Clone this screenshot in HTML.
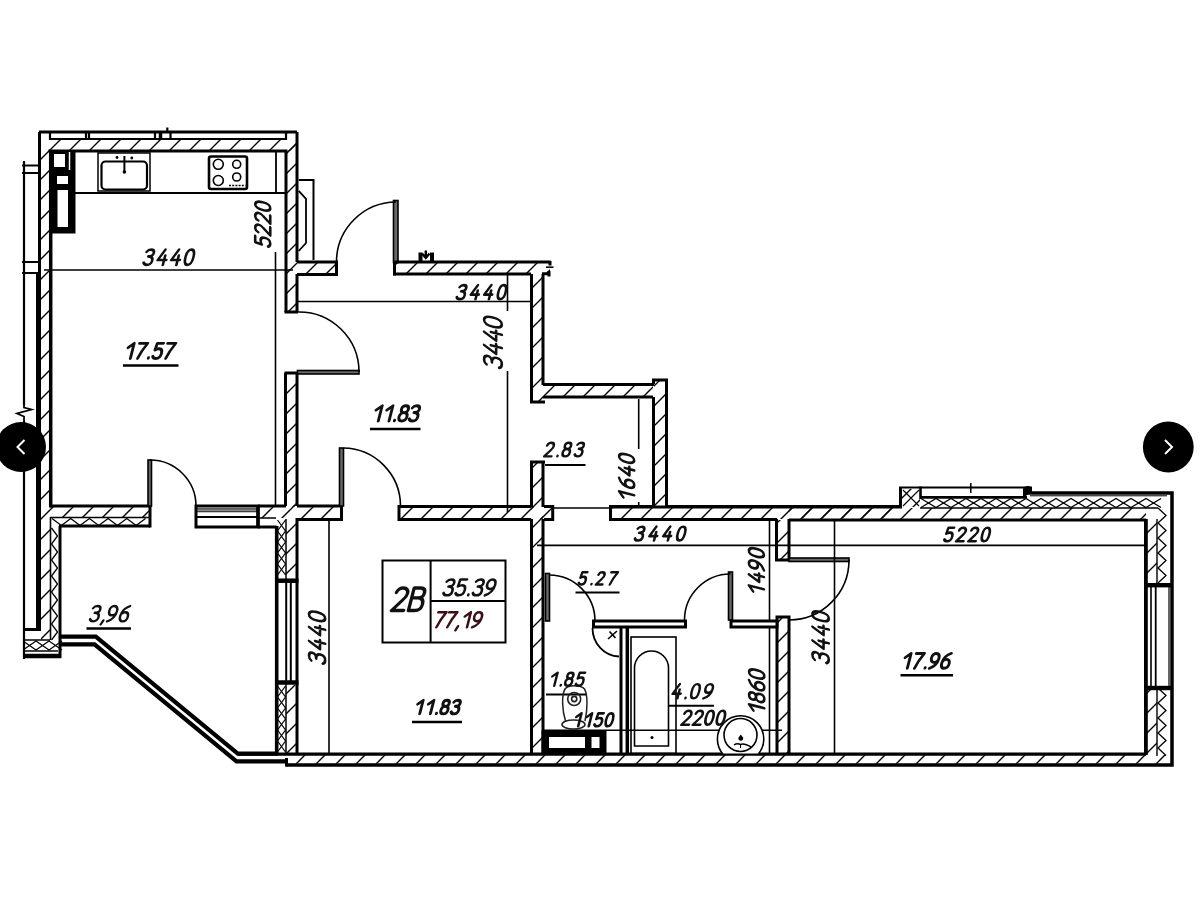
<!DOCTYPE html>
<html><head><meta charset="utf-8"><style>
html,body{margin:0;padding:0;background:#fff;}
body{width:1200px;height:897px;overflow:hidden;}
svg{display:block;}
text{font-family:"Liberation Sans",sans-serif;font-style:italic;}
</style></head><body>
<svg width="1200" height="897" viewBox="0 0 1200 897">
<defs>
<pattern id="h" patternUnits="userSpaceOnUse" width="20" height="20">
<path d="M-5,25 L25,-5 M-5,5 L5,-5 M15,25 L25,15" stroke="#000" stroke-width="1.4"/>
</pattern>
</defs>
<rect x="0" y="0" width="1200" height="897" fill="#fff"/>

<rect x="41" y="140" width="255" height="11" fill="url(#h)"/>
<line x1="39" y1="132" x2="297" y2="132" stroke="#000" stroke-width="3" />
<line x1="50" y1="139" x2="286" y2="139" stroke="#000" stroke-width="2.2" />
<line x1="48.5" y1="151" x2="287.5" y2="151" stroke="#000" stroke-width="3" />
<line x1="50" y1="132" x2="50" y2="140" stroke="#000" stroke-width="2.2" />
<line x1="86" y1="132" x2="86" y2="140" stroke="#000" stroke-width="2.2" />
<line x1="89" y1="132" x2="89" y2="140" stroke="#000" stroke-width="2.2" />
<line x1="155" y1="132" x2="155" y2="140" stroke="#000" stroke-width="2.2" />
<line x1="160.5" y1="132" x2="160.5" y2="140" stroke="#000" stroke-width="3.5" />
<line x1="170.5" y1="132" x2="170.5" y2="140" stroke="#000" stroke-width="2.2" />
<line x1="286" y1="132" x2="286" y2="140" stroke="#000" stroke-width="2.2" />
<line x1="167.3" y1="127.5" x2="167.3" y2="133" stroke="#000" stroke-width="2.2" />
<rect x="40" y="151" width="9" height="355" fill="url(#h)"/>
<line x1="39.5" y1="132" x2="39.5" y2="272" stroke="#000" stroke-width="3" />
<line x1="38.5" y1="272" x2="38.5" y2="628" stroke="#000" stroke-width="5" />
<line x1="50.7" y1="150" x2="50.7" y2="507.5" stroke="#000" stroke-width="3.5" />
<line x1="24" y1="161" x2="24" y2="405" stroke="#000" stroke-width="2.2" />
<path d="M24,404 L24,407.5 L31.5,409.5 L17,413.5 L24,416.5 L24,422" fill="none" stroke="#000" stroke-width="1.8"/>
<line x1="24" y1="421" x2="24" y2="629" stroke="#000" stroke-width="2.2" />
<line x1="22" y1="165.5" x2="38" y2="165.5" stroke="#000" stroke-width="2" />
<line x1="22" y1="173" x2="38" y2="173" stroke="#000" stroke-width="2" />
<line x1="22" y1="262" x2="38" y2="262" stroke="#000" stroke-width="2" />
<line x1="22" y1="273" x2="38" y2="273" stroke="#000" stroke-width="2" />
<rect x="287" y="132" width="10" height="180" fill="url(#h)"/>
<rect x="287" y="373" width="10" height="134" fill="url(#h)"/>
<line x1="297" y1="132" x2="297" y2="262" stroke="#000" stroke-width="3" />
<line x1="297" y1="274" x2="297" y2="312" stroke="#000" stroke-width="3" />
<line x1="286" y1="151" x2="286" y2="312" stroke="#000" stroke-width="3" />
<line x1="284.5" y1="312" x2="298" y2="312" stroke="#000" stroke-width="3" />
<line x1="285.5" y1="373" x2="285.5" y2="506" stroke="#000" stroke-width="3" />
<line x1="297" y1="373" x2="297" y2="506" stroke="#000" stroke-width="3" />
<line x1="284.5" y1="373" x2="298" y2="373" stroke="#000" stroke-width="3" />
<rect x="51.5" y="151.5" width="23" height="81" fill="#000" stroke="#000" stroke-width="2" />
<rect x="54" y="154" width="11" height="13" fill="#fff" stroke="none" stroke-width="3" />
<rect x="57" y="176" width="11" height="8" fill="#fff" stroke="none" stroke-width="3" />
<rect x="57.5" y="190" width="10.5" height="37" fill="#fff" stroke="none" stroke-width="3" />
<line x1="69.5" y1="152" x2="69.5" y2="170" stroke="#fff" stroke-width="1.5" />
<line x1="74" y1="193" x2="286" y2="193" stroke="#000" stroke-width="2.2" />
<line x1="276" y1="151" x2="276" y2="193" stroke="#000" stroke-width="1.8" />
<rect x="98" y="153" width="52" height="38" fill="none" stroke="#000" stroke-width="1.5" />
<rect x="101.5" y="161.5" width="45.5" height="28" rx="4" fill="none" stroke="#000" stroke-width="2.2"/>
<circle cx="117" cy="157.5" r="1.4" fill="#000"/><circle cx="131.8" cy="158" r="1.4" fill="#000"/><circle cx="124.4" cy="172" r="1.8" fill="#000"/>
<line x1="124.4" y1="156" x2="124.4" y2="171" stroke="#000" stroke-width="2" />
<rect x="209" y="156.5" width="38" height="32.5" rx="2" fill="none" stroke="#000" stroke-width="2.6"/>
<circle cx="218.3" cy="164.3" r="5" fill="none" stroke="#000" stroke-width="1.6"/>
<circle cx="236.7" cy="164.3" r="4" fill="none" stroke="#000" stroke-width="1.6"/>
<circle cx="218.3" cy="180.5" r="5" fill="none" stroke="#000" stroke-width="1.6"/>
<circle cx="236.7" cy="177" r="4" fill="none" stroke="#000" stroke-width="1.6"/>
<line x1="229" y1="185.5" x2="245.5" y2="185.5" stroke="#000" stroke-width="1.6" stroke-dasharray="2,1.2"/>
<line x1="44" y1="270" x2="293" y2="270" stroke="#000" stroke-width="1.6" />
<line x1="275.5" y1="252" x2="275.5" y2="506" stroke="#000" stroke-width="1.6" />
<line x1="123" y1="365.5" x2="178.5" y2="365.5" stroke="#000" stroke-width="2.6" />
<path d="M298.7,180 L313.5,180 L313.5,260" fill="none" stroke="#000" stroke-width="2"/>
<path d="M298.7,190.8 L306,198.8 L306,243 L298.7,251" fill="none" stroke="#000" stroke-width="1.8"/>
<rect x="298" y="263" width="38" height="11" fill="url(#h)"/>
<path d="M297,262 L336.5,262 L336.5,274.5 L297,274.5" fill="none" stroke="#000" stroke-width="3"/>
<rect x="393.5" y="200.5" width="4.5" height="62" fill="#6a6a6a" stroke="#000" stroke-width="1.6" />
<path d="M396,202 A60,60 0 0 0 336.5,262" fill="none" stroke="#000" stroke-width="1.6"/>
<rect x="396" y="263" width="154" height="11" fill="url(#h)"/>
<path d="M394.5,262 L550.5,262 M550,261 L550,265.5 M542,273.8 L550.5,273.8 M549,271 L549,276.5" fill="none" stroke="#000" stroke-width="3"/>
<line x1="546" y1="267.2" x2="553.5" y2="267.2" stroke="#000" stroke-width="1.6" />
<path d="M420.5,263 L420.5,252.5 M432,263 L432,252.5" stroke="#000" stroke-width="4"/>
<path d="M422,253.5 L425.8,258 L429.5,253.5 M425.8,250.5 L425.8,256" fill="none" stroke="#000" stroke-width="2.4"/>
<line x1="394.5" y1="262" x2="394.5" y2="275.5" stroke="#000" stroke-width="3" />
<line x1="393" y1="274" x2="531" y2="274" stroke="#000" stroke-width="3" />
<rect x="531" y="275" width="12" height="127" fill="url(#h)"/>
<line x1="531.5" y1="274" x2="531.5" y2="402" stroke="#000" stroke-width="3" />
<line x1="543" y1="274" x2="543" y2="385" stroke="#000" stroke-width="3" />
<line x1="530" y1="402" x2="545" y2="402" stroke="#000" stroke-width="3" />
<rect x="544" y="385" width="109" height="12" fill="url(#h)"/>
<line x1="543" y1="384.5" x2="654" y2="384.5" stroke="#000" stroke-width="3" />
<line x1="543" y1="397" x2="653" y2="397" stroke="#000" stroke-width="3" />
<rect x="654" y="380" width="12" height="127" fill="url(#h)"/>
<path d="M653.5,384 L653.5,380 L666.5,380 L666.5,508" fill="none" stroke="#000" stroke-width="3"/>
<line x1="653.5" y1="397" x2="653.5" y2="508" stroke="#000" stroke-width="3" />
<rect x="531" y="462" width="12" height="292" fill="url(#h)"/>
<line x1="531.5" y1="461" x2="531.5" y2="507" stroke="#000" stroke-width="3" />
<line x1="543" y1="461" x2="543" y2="507" stroke="#000" stroke-width="3" />
<line x1="530" y1="462" x2="545" y2="462" stroke="#000" stroke-width="3" />
<rect x="297.5" y="370.5" width="61.5" height="3.5" fill="#6a6a6a" stroke="#000" stroke-width="1.6" />
<path d="M297.5,312 A60,60 0 0 1 359,372" fill="none" stroke="#000" stroke-width="1.6"/>
<line x1="298" y1="301.5" x2="531" y2="301.5" stroke="#000" stroke-width="1.6" />
<line x1="507.5" y1="275" x2="507.5" y2="311" stroke="#000" stroke-width="1.6" />
<line x1="507.5" y1="371" x2="507.5" y2="507" stroke="#000" stroke-width="1.6" />
<line x1="370" y1="429" x2="420.5" y2="429" stroke="#000" stroke-width="2.6" />
<rect x="41" y="507" width="109" height="10" fill="url(#h)"/>
<line x1="50" y1="506" x2="150" y2="506" stroke="#000" stroke-width="3" />
<line x1="50" y1="517.5" x2="150" y2="517.5" stroke="#000" stroke-width="1.6" />
<polyline points="52.0,518.5 61.4,525.5 70.7,518.5 80.0,525.5 89.4,518.5 98.7,525.5 108.1,518.5 117.4,525.5 126.8,518.5 136.1,525.5 145.5,518.5" fill="none" stroke="#000" stroke-width="1.3"/>
<line x1="59" y1="526" x2="150" y2="526" stroke="#000" stroke-width="3" />
<line x1="150" y1="504.5" x2="150" y2="527.5" stroke="#000" stroke-width="3" />
<rect x="148" y="460" width="3.5" height="46" fill="#6a6a6a" stroke="#000" stroke-width="1.6" />
<path d="M150,460 A46,46 0 0 1 196,506" fill="none" stroke="#000" stroke-width="1.6"/>
<rect x="196" y="506" width="62" height="21" fill="none" stroke="#000" stroke-width="3"/>
<rect x="197" y="508.8" width="60" height="3" fill="#888" stroke="#000" stroke-width="0.8"/>
<line x1="196" y1="517" x2="257" y2="517" stroke="#000" stroke-width="2" />
<line x1="258" y1="505" x2="258" y2="528" stroke="#000" stroke-width="3.5" />
<rect x="258" y="505" width="39" height="13" fill="url(#h)"/>
<rect x="286" y="518" width="10" height="62" fill="url(#h)"/>
<polyline points="277.5,520.0 285.5,531.0 277.5,542.0 285.5,553.0 277.5,564.0 285.5,575.0" fill="none" stroke="#000" stroke-width="1.2"/>
<polyline points="285.5,520.0 277.5,531.0 285.5,542.0 277.5,553.0 285.5,564.0 277.5,575.0" fill="none" stroke="#000" stroke-width="1.2"/>
<line x1="258" y1="506" x2="286" y2="506" stroke="#000" stroke-width="3" />
<line x1="297" y1="506" x2="341.5" y2="506" stroke="#000" stroke-width="3" />
<line x1="258" y1="527" x2="276.5" y2="527" stroke="#000" stroke-width="3" />
<line x1="258" y1="518" x2="276" y2="518" stroke="#000" stroke-width="1.5" />
<line x1="276.7" y1="526" x2="276.7" y2="754" stroke="#000" stroke-width="3.6" />
<line x1="297" y1="518" x2="297" y2="754" stroke="#000" stroke-width="3" />
<line x1="286" y1="519" x2="286" y2="580" stroke="#000" stroke-width="1.5" />
<line x1="275" y1="580.7" x2="298.5" y2="580.7" stroke="#000" stroke-width="4.5" />
<line x1="286.2" y1="581" x2="286.2" y2="684" stroke="#000" stroke-width="2" />
<line x1="290.8" y1="581" x2="290.8" y2="684" stroke="#000" stroke-width="2" />
<line x1="275" y1="682.5" x2="298.5" y2="682.5" stroke="#000" stroke-width="4.5" />
<rect x="286" y="685" width="10" height="68" fill="url(#h)"/>
<polyline points="277.5,686.0 285.5,697.0 277.5,708.0 285.5,719.0 277.5,730.0 285.5,741.0 277.5,752.0" fill="none" stroke="#000" stroke-width="1.2"/>
<polyline points="285.5,686.0 277.5,697.0 285.5,708.0 277.5,719.0 285.5,730.0 277.5,741.0 285.5,752.0" fill="none" stroke="#000" stroke-width="1.2"/>
<line x1="286" y1="684" x2="286" y2="753" stroke="#000" stroke-width="1.5" />
<rect x="298" y="507" width="43" height="12" fill="url(#h)"/>
<line x1="297" y1="519.5" x2="341.5" y2="519.5" stroke="#000" stroke-width="3" />
<line x1="341.5" y1="505" x2="341.5" y2="521" stroke="#000" stroke-width="3" />
<rect x="339.5" y="448" width="4" height="58" fill="#6a6a6a" stroke="#000" stroke-width="1.6" />
<path d="M343.5,448 A58,58 0 0 1 400.5,506" fill="none" stroke="#000" stroke-width="1.6"/>
<rect x="400" y="507" width="152" height="12" fill="url(#h)"/>
<line x1="399" y1="506.5" x2="531" y2="506.5" stroke="#000" stroke-width="3" />
<line x1="544" y1="506.5" x2="553" y2="506.5" stroke="#000" stroke-width="3" />
<line x1="399" y1="519.5" x2="531" y2="519.5" stroke="#000" stroke-width="3" />
<line x1="544" y1="519.5" x2="553" y2="519.5" stroke="#000" stroke-width="3" />
<line x1="399" y1="505" x2="399" y2="521" stroke="#000" stroke-width="3" />
<line x1="552.7" y1="505" x2="552.7" y2="521" stroke="#000" stroke-width="3" />
<line x1="553" y1="508" x2="610" y2="508" stroke="#000" stroke-width="1.4" />
<rect x="611" y="507" width="289" height="12" fill="url(#h)"/>
<line x1="610.5" y1="505" x2="610.5" y2="521" stroke="#000" stroke-width="3" />
<line x1="610" y1="506.5" x2="653" y2="506.5" stroke="#000" stroke-width="3" />
<line x1="666" y1="506.5" x2="901" y2="506.5" stroke="#000" stroke-width="3" />
<line x1="610" y1="519.5" x2="777" y2="519.5" stroke="#000" stroke-width="3" />
<line x1="238" y1="754.2" x2="1146" y2="754.2" stroke="#000" stroke-width="3.2" />
<line x1="286.5" y1="758" x2="286.5" y2="766.5" stroke="#000" stroke-width="3" />
<line x1="531.5" y1="519" x2="531.5" y2="754" stroke="#000" stroke-width="3" />
<line x1="543" y1="519" x2="543" y2="754" stroke="#000" stroke-width="3" />
<line x1="412" y1="722" x2="462" y2="722" stroke="#000" stroke-width="2.6" />
<line x1="329" y1="518" x2="329" y2="754" stroke="#000" stroke-width="1.6" />
<rect x="382.5" y="560.5" width="123" height="82" fill="none" stroke="#000" stroke-width="2" />
<line x1="430.6" y1="560.5" x2="430.6" y2="642.5" stroke="#000" stroke-width="2" />
<line x1="430.6" y1="601" x2="505.5" y2="601" stroke="#000" stroke-width="2" />
<rect x="41" y="517" width="9" height="123" fill="url(#h)"/>
<line x1="38.5" y1="517" x2="38.5" y2="628" stroke="#000" stroke-width="5" />
<line x1="50.5" y1="517" x2="50.5" y2="640" stroke="#000" stroke-width="1.6" />
<polyline points="51.5,528.0 57.5,536.0 51.5,544.0 57.5,552.0 51.5,560.0 57.5,568.0 51.5,576.0 57.5,584.0 51.5,592.0 57.5,600.0 51.5,608.0 57.5,616.0 51.5,624.0 57.5,632.0 51.5,640.0" fill="none" stroke="#000" stroke-width="1.3"/>
<line x1="60" y1="526" x2="60" y2="658" stroke="#000" stroke-width="3" />
<line x1="23" y1="629.5" x2="41" y2="629.5" stroke="#000" stroke-width="3" />
<line x1="24" y1="629" x2="24" y2="659" stroke="#000" stroke-width="2.2" />
<line x1="25" y1="640" x2="50" y2="640" stroke="#000" stroke-width="1.5" />
<polyline points="23.0,641.0 36.0,650.0 49.0,641.0 62.0,650.0" fill="none" stroke="#000" stroke-width="1.2"/>
<polyline points="23.0,650.0 36.0,641.0 49.0,650.0 62.0,641.0" fill="none" stroke="#000" stroke-width="1.2"/>
<line x1="25" y1="651" x2="58" y2="651" stroke="#000" stroke-width="1.5" />
<line x1="23" y1="656" x2="61" y2="656" stroke="#000" stroke-width="4.5" />
<path d="M61,636.7 L95.8,636.7 L237.8,753.7 L278,753.7 M61,644.4 L94.5,644.4 L236.5,761.4 L286,761.4" fill="none" stroke="#000" stroke-width="4.2"/>
<line x1="86.5" y1="628.5" x2="131" y2="628.5" stroke="#000" stroke-width="2.4" />
<line x1="545" y1="465" x2="585.5" y2="465" stroke="#000" stroke-width="2.2" />
<line x1="638.7" y1="399" x2="638.7" y2="449" stroke="#000" stroke-width="1.6" />
<line x1="638.7" y1="502" x2="638.7" y2="508" stroke="#000" stroke-width="1.6" />
<line x1="507.5" y1="507" x2="507.5" y2="512" stroke="#000" stroke-width="1.6" />
<line x1="537" y1="545.4" x2="1144" y2="545.4" stroke="#000" stroke-width="1.6" />
<line x1="769.5" y1="518" x2="769.5" y2="754" stroke="#000" stroke-width="1.6" />
<line x1="575.5" y1="592.5" x2="619.5" y2="592.5" stroke="#000" stroke-width="2.2" />
<rect x="777" y="520" width="11" height="39" fill="url(#h)"/>
<path d="M776.5,519 L776.5,560 L789,560 L789,519" fill="none" stroke="#000" stroke-width="3"/>
<rect x="789" y="558" width="60" height="3.5" fill="#6a6a6a" stroke="#000" stroke-width="1.6" />
<path d="M849,560 A60,60 0 0 1 789,620" fill="none" stroke="#000" stroke-width="1.6"/>
<rect x="778" y="617" width="10" height="137" fill="url(#h)"/>
<path d="M777,754 L777,617 L789,617 L789,754" fill="none" stroke="#000" stroke-width="3"/>
<rect x="545.5" y="573.5" width="4" height="47.5" fill="#6a6a6a" stroke="#000" stroke-width="1.6" />
<path d="M549.5,575 A46,46 0 0 1 595,621" fill="none" stroke="#000" stroke-width="1.6"/>
<rect x="728.5" y="572" width="4" height="48" fill="#6a6a6a" stroke="#000" stroke-width="1.6" />
<path d="M730.5,574 A46,46 0 0 0 684.5,620" fill="none" stroke="#000" stroke-width="1.6"/>
<rect x="593.5" y="621" width="92" height="6" fill="#fff" stroke="#000" stroke-width="3"/>
<rect x="731" y="621" width="46" height="6" fill="#fff" stroke="#000" stroke-width="3"/>
<line x1="621" y1="627" x2="621" y2="754" stroke="#000" stroke-width="3" />
<line x1="627.3" y1="627" x2="627.3" y2="754" stroke="#000" stroke-width="3.5" />
<line x1="546" y1="694.5" x2="586.5" y2="694.5" stroke="#000" stroke-width="2" />
<path d="M565.5,721 C562,710 561.5,695 565,689 C568,684.5 581,684.5 584.5,689 C588,695 587.5,710 585,721" fill="none" stroke="#222" stroke-width="1.5"/>
<ellipse cx="573.5" cy="724.5" rx="11.5" ry="4.5" fill="#fff" stroke="#222" stroke-width="1.5"/>
<circle cx="574.2" cy="699" r="6.5" fill="none" stroke="#222" stroke-width="1.6"/><circle cx="574.2" cy="699" r="2.6" fill="none" stroke="#222" stroke-width="1.6"/>
<line x1="542" y1="730.3" x2="782" y2="730.3" stroke="#000" stroke-width="1.6" />
<rect x="542.5" y="731.5" width="63" height="22.5" fill="#000" stroke="#000" stroke-width="2" />
<rect x="549" y="737" width="36" height="11" fill="#fff" stroke="none" stroke-width="3" />
<rect x="591.5" y="737" width="8" height="11" fill="#fff" stroke="none" stroke-width="3" />
<path d="M592.5,628 A27,28.5 0 0 0 619,656.5" fill="none" stroke="#000" stroke-width="1.8"/>
<path d="M608,639 L617,631 M609.5,631.5 L615.5,638" stroke="#000" stroke-width="1.6"/>
<rect x="631" y="637" width="45" height="116.5" fill="none" stroke="#000" stroke-width="1.6" />
<path d="M634.5,746 L634.5,668 A17,17 0 0 1 668.5,668 L668.5,746 Z" fill="none" stroke="#000" stroke-width="1.6"/>
<circle cx="652" cy="737.5" r="1.5" fill="#000"/>
<line x1="668.5" y1="705.8" x2="714" y2="705.8" stroke="#000" stroke-width="2" />
<clipPath id="cb"><rect x="700" y="700" width="80" height="53.5"/></clipPath>
<g clip-path="url(#cb)"><circle cx="740.6" cy="739" r="23.2" fill="#fff" stroke="#000" stroke-width="1.6"/>
<circle cx="740.5" cy="735" r="16.5" fill="none" stroke="#000" stroke-width="1.6"/></g>
<path d="M740.8,734.5 L743,737.5 A2.4,2.4 0 1 1 738.6,737.5 Z" fill="#000"/>
<path d="M734,745 Q737,743 740.5,744.5 Q744,743 751,747" fill="none" stroke="#000" stroke-width="1.5"/>
<line x1="740.5" y1="745" x2="740.5" y2="748" stroke="#000" stroke-width="1" />
<rect x="789" y="508" width="357" height="11" fill="url(#h)"/>
<line x1="899.5" y1="506.5" x2="900.5" y2="506.5" stroke="#000" stroke-width="3" />
<line x1="900.5" y1="505" x2="900.5" y2="508" stroke="#000" stroke-width="3" />
<path d="M610,507 L900.5,507 L900.5,487.5" fill="none" stroke="#000" stroke-width="3"/>
<line x1="899" y1="487.5" x2="1030" y2="487.5" stroke="#000" stroke-width="1.8" />
<rect x="902" y="489" width="18" height="18" fill="url(#h)"/>
<path d="M903,490 L919,506 M903,506 L919,490" stroke="#000" stroke-width="1.1"/>
<line x1="920.5" y1="486.5" x2="920.5" y2="499" stroke="#000" stroke-width="2.6" />
<line x1="920" y1="497.3" x2="1027" y2="497.3" stroke="#000" stroke-width="2.8" />
<line x1="970.8" y1="483" x2="970.8" y2="493" stroke="#000" stroke-width="1.5" />
<path d="M1024,497.5 L1024,489 Q1026,486 1031,487.5 L1031,491.7" fill="#000" stroke="#000" stroke-width="2"/>
<path d="M1027,493 L1172,493 L1172,765 L286,765" fill="none" stroke="#000" stroke-width="3.5"/>
<line x1="1030" y1="495.8" x2="1167" y2="495.8" stroke="#000" stroke-width="1" />
<polyline points="921.0,498.5 936.0,507.5 951.0,498.5 966.0,507.5 981.0,498.5 996.0,507.5 1011.0,498.5 1026.0,507.5 1041.0,498.5 1056.0,507.5 1071.0,498.5 1086.0,507.5 1101.0,498.5 1116.0,507.5 1131.0,498.5 1146.0,507.5 1161.0,498.5" fill="none" stroke="#000" stroke-width="1.3"/>
<polyline points="921.0,507.5 936.0,498.5 951.0,507.5 966.0,498.5 981.0,507.5 996.0,498.5 1011.0,507.5 1026.0,498.5 1041.0,507.5 1056.0,498.5 1071.0,507.5 1086.0,498.5 1101.0,507.5 1116.0,498.5 1131.0,507.5 1146.0,498.5 1161.0,507.5" fill="none" stroke="#000" stroke-width="1.3"/>
<line x1="920" y1="508" x2="1158" y2="508" stroke="#000" stroke-width="1.6" />
<line x1="789" y1="520" x2="1146" y2="520" stroke="#000" stroke-width="3" />
<line x1="1145.9" y1="519" x2="1145.9" y2="755" stroke="#000" stroke-width="3.8" />
<rect x="1147" y="520" width="10" height="65" fill="url(#h)"/>
<rect x="1147" y="688" width="10" height="66" fill="url(#h)"/>
<polyline points="1158.0,508.0 1166.0,515.5 1158.0,523.0 1166.0,530.5 1158.0,538.0 1166.0,545.5 1158.0,553.0 1166.0,560.5 1158.0,568.0 1166.0,575.5 1158.0,583.0" fill="none" stroke="#000" stroke-width="1.3"/>
<polyline points="1158.0,688.0 1166.0,695.5 1158.0,703.0 1166.0,710.5 1158.0,718.0 1166.0,725.5 1158.0,733.0 1166.0,740.5 1158.0,748.0 1166.0,755.5" fill="none" stroke="#000" stroke-width="1.3"/>
<line x1="1157" y1="519" x2="1157" y2="585" stroke="#000" stroke-width="1.4" />
<line x1="1157" y1="688" x2="1157" y2="756" stroke="#000" stroke-width="1.4" />
<line x1="1144" y1="585.2" x2="1172" y2="585.2" stroke="#000" stroke-width="4.4" />
<line x1="1144" y1="688" x2="1172" y2="688" stroke="#000" stroke-width="4.4" />
<line x1="1151" y1="586" x2="1151" y2="688" stroke="#000" stroke-width="1.6" />
<line x1="1155.7" y1="586" x2="1155.7" y2="688" stroke="#000" stroke-width="1.8" />
<line x1="1169" y1="586" x2="1169" y2="688" stroke="#000" stroke-width="1.2" />
<rect x="287" y="755" width="883" height="9" fill="url(#h)"/>
<line x1="834.5" y1="520" x2="834.5" y2="754" stroke="#000" stroke-width="1.6" />
<line x1="900.5" y1="675.2" x2="953" y2="675.2" stroke="#000" stroke-width="2.6" />
<g transform="translate(142.96,264.90) skewX(-14.32) scale(15.260)" fill="none" stroke="#111" stroke-width="0.1704" stroke-linecap="round" stroke-linejoin="round"><path transform="translate(0.000,0)" d="M 0.021,-0.860 C 0.073,-0.960 0.156,-1.000 0.270,-1.000 C 0.416,-1.000 0.510,-0.910 0.510,-0.780 C 0.510,-0.640 0.395,-0.560 0.208,-0.560 C 0.416,-0.560 0.530,-0.450 0.530,-0.280 C 0.530,-0.100 0.416,0.000 0.260,0.000 C 0.125,0.000 0.042,-0.050 0.000,-0.150"/><path transform="translate(0.886,0)" d="M 0.333,-1.000 L 0.000,-0.320 L 0.562,-0.320 M 0.416,-0.620 L 0.416,0.000"/><path transform="translate(1.773,0)" d="M 0.333,-1.000 L 0.000,-0.320 L 0.562,-0.320 M 0.416,-0.620 L 0.416,0.000"/><path transform="translate(2.659,0)" d="M 0.260,-1.000 C 0.062,-1.000 0.000,-0.740 0.000,-0.500 C 0.000,-0.260 0.062,0.000 0.260,0.000 C 0.458,0.000 0.520,-0.260 0.520,-0.500 C 0.520,-0.740 0.458,-1.000 0.260,-1.000 Z"/></g>
<g transform="translate(270.25,247.20) rotate(-90) skewX(-14.32) scale(15.040)" fill="none" stroke="#111" stroke-width="0.1729" stroke-linecap="round" stroke-linejoin="round"><path transform="translate(0.000,0)" d="M 0.499,-1.000 L 0.083,-1.000 L 0.042,-0.560 C 0.125,-0.620 0.208,-0.640 0.291,-0.640 C 0.437,-0.640 0.530,-0.520 0.530,-0.330 C 0.530,-0.120 0.416,0.000 0.250,0.000 C 0.125,0.000 0.042,-0.050 0.000,-0.140"/><path transform="translate(0.780,0)" d="M 0.021,-0.800 C 0.052,-0.940 0.146,-1.000 0.270,-1.000 C 0.416,-1.000 0.520,-0.900 0.520,-0.760 C 0.520,-0.640 0.468,-0.560 0.385,-0.470 L 0.000,0.000 L 0.541,0.000"/><path transform="translate(1.561,0)" d="M 0.021,-0.800 C 0.052,-0.940 0.146,-1.000 0.270,-1.000 C 0.416,-1.000 0.520,-0.900 0.520,-0.760 C 0.520,-0.640 0.468,-0.560 0.385,-0.470 L 0.000,0.000 L 0.541,0.000"/><path transform="translate(2.341,0)" d="M 0.260,-1.000 C 0.062,-1.000 0.000,-0.740 0.000,-0.500 C 0.000,-0.260 0.062,0.000 0.260,0.000 C 0.458,0.000 0.520,-0.260 0.520,-0.500 C 0.520,-0.740 0.458,-1.000 0.260,-1.000 Z"/></g>
<g transform="translate(124.09,358.44) skewX(-14.32) scale(15.070)" fill="none" stroke="#111" stroke-width="0.1924" stroke-linecap="round" stroke-linejoin="round"><path transform="translate(0.000,0)" d="M 0.083,-0.720 L 0.416,-1.000 L 0.416,0.000"/><path transform="translate(0.771,0)" d="M 0.000,-1.000 L 0.541,-1.000 C 0.364,-0.700 0.208,-0.350 0.125,0.000"/><path transform="translate(1.542,0)" d="M 0.062,-0.050 L 0.062,-0.010"/><path transform="translate(1.865,0)" d="M 0.499,-1.000 L 0.083,-1.000 L 0.042,-0.560 C 0.125,-0.620 0.208,-0.640 0.291,-0.640 C 0.437,-0.640 0.530,-0.520 0.530,-0.330 C 0.530,-0.120 0.416,0.000 0.250,0.000 C 0.125,0.000 0.042,-0.050 0.000,-0.140"/><path transform="translate(2.636,0)" d="M 0.000,-1.000 L 0.541,-1.000 C 0.364,-0.700 0.208,-0.350 0.125,0.000"/></g>
<g transform="translate(456.23,299.17) skewX(-14.32) scale(14.060)" fill="none" stroke="#111" stroke-width="0.1849" stroke-linecap="round" stroke-linejoin="round"><path transform="translate(0.000,0)" d="M 0.021,-0.860 C 0.073,-0.960 0.156,-1.000 0.270,-1.000 C 0.416,-1.000 0.510,-0.910 0.510,-0.780 C 0.510,-0.640 0.395,-0.560 0.208,-0.560 C 0.416,-0.560 0.530,-0.450 0.530,-0.280 C 0.530,-0.100 0.416,0.000 0.260,0.000 C 0.125,0.000 0.042,-0.050 0.000,-0.150"/><path transform="translate(0.955,0)" d="M 0.333,-1.000 L 0.000,-0.320 L 0.562,-0.320 M 0.416,-0.620 L 0.416,0.000"/><path transform="translate(1.910,0)" d="M 0.333,-1.000 L 0.000,-0.320 L 0.562,-0.320 M 0.416,-0.620 L 0.416,0.000"/><path transform="translate(2.865,0)" d="M 0.260,-1.000 C 0.062,-1.000 0.000,-0.740 0.000,-0.500 C 0.000,-0.260 0.062,0.000 0.260,0.000 C 0.458,0.000 0.520,-0.260 0.520,-0.500 C 0.520,-0.740 0.458,-1.000 0.260,-1.000 Z"/></g>
<g transform="translate(501.80,368.62) rotate(-90) skewX(-14.32) scale(17.700)" fill="none" stroke="#111" stroke-width="0.1469" stroke-linecap="round" stroke-linejoin="round"><path transform="translate(0.000,0)" d="M 0.021,-0.860 C 0.073,-0.960 0.156,-1.000 0.270,-1.000 C 0.416,-1.000 0.510,-0.910 0.510,-0.780 C 0.510,-0.640 0.395,-0.560 0.208,-0.560 C 0.416,-0.560 0.530,-0.450 0.530,-0.280 C 0.530,-0.100 0.416,0.000 0.260,0.000 C 0.125,0.000 0.042,-0.050 0.000,-0.150"/><path transform="translate(0.747,0)" d="M 0.333,-1.000 L 0.000,-0.320 L 0.562,-0.320 M 0.416,-0.620 L 0.416,0.000"/><path transform="translate(1.494,0)" d="M 0.333,-1.000 L 0.000,-0.320 L 0.562,-0.320 M 0.416,-0.620 L 0.416,0.000"/><path transform="translate(2.241,0)" d="M 0.260,-1.000 C 0.062,-1.000 0.000,-0.740 0.000,-0.500 C 0.000,-0.260 0.062,0.000 0.260,0.000 C 0.458,0.000 0.520,-0.260 0.520,-0.500 C 0.520,-0.740 0.458,-1.000 0.260,-1.000 Z"/></g>
<g transform="translate(371.95,421.06) skewX(-14.32) scale(15.260)" fill="none" stroke="#111" stroke-width="0.1900" stroke-linecap="round" stroke-linejoin="round"><path transform="translate(0.000,0)" d="M 0.083,-0.720 L 0.416,-1.000 L 0.416,0.000"/><path transform="translate(0.703,0)" d="M 0.083,-0.720 L 0.416,-1.000 L 0.416,0.000"/><path transform="translate(1.406,0)" d="M 0.062,-0.050 L 0.062,-0.010"/><path transform="translate(1.702,0)" d="M 0.260,-0.550 C 0.104,-0.550 0.031,-0.650 0.031,-0.780 C 0.031,-0.920 0.135,-1.000 0.260,-1.000 C 0.385,-1.000 0.489,-0.920 0.489,-0.780 C 0.489,-0.650 0.416,-0.550 0.260,-0.550 C 0.104,-0.550 0.000,-0.440 0.000,-0.280 C 0.000,-0.100 0.114,0.000 0.260,0.000 C 0.406,0.000 0.520,-0.100 0.520,-0.280 C 0.520,-0.440 0.416,-0.550 0.260,-0.550 Z"/><path transform="translate(2.405,0)" d="M 0.021,-0.860 C 0.073,-0.960 0.156,-1.000 0.270,-1.000 C 0.416,-1.000 0.510,-0.910 0.510,-0.780 C 0.510,-0.640 0.395,-0.560 0.208,-0.560 C 0.416,-0.560 0.530,-0.450 0.530,-0.280 C 0.530,-0.100 0.416,0.000 0.260,0.000 C 0.125,0.000 0.042,-0.050 0.000,-0.150"/></g>
<g transform="translate(414.08,713.86) skewX(-14.32) scale(13.570)" fill="none" stroke="#111" stroke-width="0.2137" stroke-linecap="round" stroke-linejoin="round"><path transform="translate(0.000,0)" d="M 0.083,-0.720 L 0.416,-1.000 L 0.416,0.000"/><path transform="translate(0.787,0)" d="M 0.083,-0.720 L 0.416,-1.000 L 0.416,0.000"/><path transform="translate(1.574,0)" d="M 0.062,-0.050 L 0.062,-0.010"/><path transform="translate(1.904,0)" d="M 0.260,-0.550 C 0.104,-0.550 0.031,-0.650 0.031,-0.780 C 0.031,-0.920 0.135,-1.000 0.260,-1.000 C 0.385,-1.000 0.489,-0.920 0.489,-0.780 C 0.489,-0.650 0.416,-0.550 0.260,-0.550 C 0.104,-0.550 0.000,-0.440 0.000,-0.280 C 0.000,-0.100 0.114,0.000 0.260,0.000 C 0.406,0.000 0.520,-0.100 0.520,-0.280 C 0.520,-0.440 0.416,-0.550 0.260,-0.550 Z"/><path transform="translate(2.691,0)" d="M 0.021,-0.860 C 0.073,-0.960 0.156,-1.000 0.270,-1.000 C 0.416,-1.000 0.510,-0.910 0.510,-0.780 C 0.510,-0.640 0.395,-0.560 0.208,-0.560 C 0.416,-0.560 0.530,-0.450 0.530,-0.280 C 0.530,-0.100 0.416,0.000 0.260,0.000 C 0.125,0.000 0.042,-0.050 0.000,-0.150"/></g>
<g transform="translate(325.15,664.35) rotate(-90) skewX(-14.32) scale(16.130)" fill="none" stroke="#111" stroke-width="0.1612" stroke-linecap="round" stroke-linejoin="round"><path transform="translate(0.000,0)" d="M 0.021,-0.860 C 0.073,-0.960 0.156,-1.000 0.270,-1.000 C 0.416,-1.000 0.510,-0.910 0.510,-0.780 C 0.510,-0.640 0.395,-0.560 0.208,-0.560 C 0.416,-0.560 0.530,-0.450 0.530,-0.280 C 0.530,-0.100 0.416,0.000 0.260,0.000 C 0.125,0.000 0.042,-0.050 0.000,-0.150"/><path transform="translate(0.863,0)" d="M 0.333,-1.000 L 0.000,-0.320 L 0.562,-0.320 M 0.416,-0.620 L 0.416,0.000"/><path transform="translate(1.725,0)" d="M 0.333,-1.000 L 0.000,-0.320 L 0.562,-0.320 M 0.416,-0.620 L 0.416,0.000"/><path transform="translate(2.588,0)" d="M 0.260,-1.000 C 0.062,-1.000 0.000,-0.740 0.000,-0.500 C 0.000,-0.260 0.062,0.000 0.260,0.000 C 0.458,0.000 0.520,-0.260 0.520,-0.500 C 0.520,-0.740 0.458,-1.000 0.260,-1.000 Z"/></g>
<g transform="translate(391.40,610.55) skewX(-14.32) scale(22.580)" fill="none" stroke="#111" stroke-width="0.1506" stroke-linecap="round" stroke-linejoin="round"><path transform="translate(0.000,0)" d="M 0.021,-0.800 C 0.052,-0.940 0.146,-1.000 0.270,-1.000 C 0.416,-1.000 0.520,-0.900 0.520,-0.760 C 0.520,-0.640 0.468,-0.560 0.385,-0.470 L 0.000,0.000 L 0.541,0.000"/><path transform="translate(0.754,0)" d="M 0.000,0.000 L 0.000,-1.000 L 0.281,-1.000 C 0.426,-1.000 0.510,-0.920 0.510,-0.780 C 0.510,-0.640 0.416,-0.560 0.270,-0.560 L 0.000,-0.560 M 0.270,-0.560 C 0.447,-0.560 0.551,-0.460 0.551,-0.280 C 0.551,-0.100 0.447,0.000 0.281,0.000 L 0.000,0.000"/></g>
<g transform="translate(442.91,595.32) skewX(-14.32) scale(15.840)" fill="none" stroke="#111" stroke-width="0.1641" stroke-linecap="round" stroke-linejoin="round"><path transform="translate(0.000,0)" d="M 0.021,-0.860 C 0.073,-0.960 0.156,-1.000 0.270,-1.000 C 0.416,-1.000 0.510,-0.910 0.510,-0.780 C 0.510,-0.640 0.395,-0.560 0.208,-0.560 C 0.416,-0.560 0.530,-0.450 0.530,-0.280 C 0.530,-0.100 0.416,0.000 0.260,0.000 C 0.125,0.000 0.042,-0.050 0.000,-0.150"/><path transform="translate(0.766,0)" d="M 0.499,-1.000 L 0.083,-1.000 L 0.042,-0.560 C 0.125,-0.620 0.208,-0.640 0.291,-0.640 C 0.437,-0.640 0.530,-0.520 0.530,-0.330 C 0.530,-0.120 0.416,0.000 0.250,0.000 C 0.125,0.000 0.042,-0.050 0.000,-0.140"/><path transform="translate(1.532,0)" d="M 0.062,-0.050 L 0.062,-0.010"/><path transform="translate(1.854,0)" d="M 0.021,-0.860 C 0.073,-0.960 0.156,-1.000 0.270,-1.000 C 0.416,-1.000 0.510,-0.910 0.510,-0.780 C 0.510,-0.640 0.395,-0.560 0.208,-0.560 C 0.416,-0.560 0.530,-0.450 0.530,-0.280 C 0.530,-0.100 0.416,0.000 0.260,0.000 C 0.125,0.000 0.042,-0.050 0.000,-0.150"/><path transform="translate(2.620,0)" d="M 0.031,0.000 C 0.312,-0.100 0.499,-0.350 0.510,-0.650 C 0.520,-0.880 0.416,-1.000 0.260,-1.000 C 0.104,-1.000 0.000,-0.880 0.000,-0.700 C 0.000,-0.520 0.104,-0.400 0.250,-0.400 C 0.374,-0.400 0.468,-0.480 0.499,-0.580"/></g>
<g transform="translate(434.55,627.21) skewX(-14.32) scale(14.960)" fill="none" stroke="#3a1018" stroke-width="0.1738" stroke-linecap="round" stroke-linejoin="round"><path transform="translate(0.000,0)" d="M 0.000,-1.000 L 0.541,-1.000 C 0.364,-0.700 0.208,-0.350 0.125,0.000"/><path transform="translate(0.725,0)" d="M 0.000,-1.000 L 0.541,-1.000 C 0.364,-0.700 0.208,-0.350 0.125,0.000"/><path transform="translate(1.449,0)" d="M 0.104,-0.060 L 0.000,0.200"/><path transform="translate(1.754,0)" d="M 0.083,-0.720 L 0.416,-1.000 L 0.416,0.000"/><path transform="translate(2.478,0)" d="M 0.031,0.000 C 0.312,-0.100 0.499,-0.350 0.510,-0.650 C 0.520,-0.880 0.416,-1.000 0.260,-1.000 C 0.104,-1.000 0.000,-0.880 0.000,-0.700 C 0.000,-0.520 0.104,-0.400 0.250,-0.400 C 0.374,-0.400 0.468,-0.480 0.499,-0.580"/></g>
<g transform="translate(89.40,621.36) skewX(-14.32) scale(15.280)" fill="none" stroke="#111" stroke-width="0.1603" stroke-linecap="round" stroke-linejoin="round"><path transform="translate(0.000,0)" d="M 0.021,-0.860 C 0.073,-0.960 0.156,-1.000 0.270,-1.000 C 0.416,-1.000 0.510,-0.910 0.510,-0.780 C 0.510,-0.640 0.395,-0.560 0.208,-0.560 C 0.416,-0.560 0.530,-0.450 0.530,-0.280 C 0.530,-0.100 0.416,0.000 0.260,0.000 C 0.125,0.000 0.042,-0.050 0.000,-0.150"/><path transform="translate(0.792,0)" d="M 0.104,-0.060 L 0.000,0.200"/><path transform="translate(1.125,0)" d="M 0.031,0.000 C 0.312,-0.100 0.499,-0.350 0.510,-0.650 C 0.520,-0.880 0.416,-1.000 0.260,-1.000 C 0.104,-1.000 0.000,-0.880 0.000,-0.700 C 0.000,-0.520 0.104,-0.400 0.250,-0.400 C 0.374,-0.400 0.468,-0.480 0.499,-0.580"/><path transform="translate(1.917,0)" d="M 0.489,-1.000 C 0.208,-0.900 0.021,-0.650 0.010,-0.350 C 0.000,-0.120 0.104,0.000 0.260,0.000 C 0.416,0.000 0.520,-0.120 0.520,-0.300 C 0.520,-0.480 0.416,-0.600 0.270,-0.600 C 0.146,-0.600 0.052,-0.520 0.021,-0.420"/></g>
<g transform="translate(544.13,456.36) skewX(-14.32) scale(13.520)" fill="none" stroke="#111" stroke-width="0.1812" stroke-linecap="round" stroke-linejoin="round"><path transform="translate(0.000,0)" d="M 0.021,-0.800 C 0.052,-0.940 0.146,-1.000 0.270,-1.000 C 0.416,-1.000 0.520,-0.900 0.520,-0.760 C 0.520,-0.640 0.468,-0.560 0.385,-0.470 L 0.000,0.000 L 0.541,0.000"/><path transform="translate(0.918,0)" d="M 0.062,-0.050 L 0.062,-0.010"/><path transform="translate(1.304,0)" d="M 0.260,-0.550 C 0.104,-0.550 0.031,-0.650 0.031,-0.780 C 0.031,-0.920 0.135,-1.000 0.260,-1.000 C 0.385,-1.000 0.489,-0.920 0.489,-0.780 C 0.489,-0.650 0.416,-0.550 0.260,-0.550 C 0.104,-0.550 0.000,-0.440 0.000,-0.280 C 0.000,-0.100 0.114,0.000 0.260,0.000 C 0.406,0.000 0.520,-0.100 0.520,-0.280 C 0.520,-0.440 0.416,-0.550 0.260,-0.550 Z"/><path transform="translate(2.222,0)" d="M 0.021,-0.860 C 0.073,-0.960 0.156,-1.000 0.270,-1.000 C 0.416,-1.000 0.510,-0.910 0.510,-0.780 C 0.510,-0.640 0.395,-0.560 0.208,-0.560 C 0.416,-0.560 0.530,-0.450 0.530,-0.280 C 0.530,-0.100 0.416,0.000 0.260,0.000 C 0.125,0.000 0.042,-0.050 0.000,-0.150"/></g>
<g transform="translate(634.17,501.45) rotate(-90) skewX(-14.32) scale(15.060)" fill="none" stroke="#111" stroke-width="0.1726" stroke-linecap="round" stroke-linejoin="round"><path transform="translate(0.000,0)" d="M 0.083,-0.720 L 0.416,-1.000 L 0.416,0.000"/><path transform="translate(0.825,0)" d="M 0.489,-1.000 C 0.208,-0.900 0.021,-0.650 0.010,-0.350 C 0.000,-0.120 0.104,0.000 0.260,0.000 C 0.416,0.000 0.520,-0.120 0.520,-0.300 C 0.520,-0.480 0.416,-0.600 0.270,-0.600 C 0.146,-0.600 0.052,-0.520 0.021,-0.420"/><path transform="translate(1.649,0)" d="M 0.333,-1.000 L 0.000,-0.320 L 0.562,-0.320 M 0.416,-0.620 L 0.416,0.000"/><path transform="translate(2.474,0)" d="M 0.260,-1.000 C 0.062,-1.000 0.000,-0.740 0.000,-0.500 C 0.000,-0.260 0.062,0.000 0.260,0.000 C 0.458,0.000 0.520,-0.260 0.520,-0.500 C 0.520,-0.740 0.458,-1.000 0.260,-1.000 Z"/></g>
<g transform="translate(634.45,540.51) skewX(-14.32) scale(13.820)" fill="none" stroke="#111" stroke-width="0.1881" stroke-linecap="round" stroke-linejoin="round"><path transform="translate(0.000,0)" d="M 0.021,-0.860 C 0.073,-0.960 0.156,-1.000 0.270,-1.000 C 0.416,-1.000 0.510,-0.910 0.510,-0.780 C 0.510,-0.640 0.395,-0.560 0.208,-0.560 C 0.416,-0.560 0.530,-0.450 0.530,-0.280 C 0.530,-0.100 0.416,0.000 0.260,0.000 C 0.125,0.000 0.042,-0.050 0.000,-0.150"/><path transform="translate(1.001,0)" d="M 0.333,-1.000 L 0.000,-0.320 L 0.562,-0.320 M 0.416,-0.620 L 0.416,0.000"/><path transform="translate(2.002,0)" d="M 0.333,-1.000 L 0.000,-0.320 L 0.562,-0.320 M 0.416,-0.620 L 0.416,0.000"/><path transform="translate(3.003,0)" d="M 0.260,-1.000 C 0.062,-1.000 0.000,-0.740 0.000,-0.500 C 0.000,-0.260 0.062,0.000 0.260,0.000 C 0.458,0.000 0.520,-0.260 0.520,-0.500 C 0.520,-0.740 0.458,-1.000 0.260,-1.000 Z"/></g>
<g transform="translate(763.89,595.47) rotate(-90) skewX(-14.32) scale(14.960)" fill="none" stroke="#111" stroke-width="0.1738" stroke-linecap="round" stroke-linejoin="round"><path transform="translate(0.000,0)" d="M 0.083,-0.720 L 0.416,-1.000 L 0.416,0.000"/><path transform="translate(0.823,0)" d="M 0.333,-1.000 L 0.000,-0.320 L 0.562,-0.320 M 0.416,-0.620 L 0.416,0.000"/><path transform="translate(1.646,0)" d="M 0.031,0.000 C 0.312,-0.100 0.499,-0.350 0.510,-0.650 C 0.520,-0.880 0.416,-1.000 0.260,-1.000 C 0.104,-1.000 0.000,-0.880 0.000,-0.700 C 0.000,-0.520 0.104,-0.400 0.250,-0.400 C 0.374,-0.400 0.468,-0.480 0.499,-0.580"/><path transform="translate(2.469,0)" d="M 0.260,-1.000 C 0.062,-1.000 0.000,-0.740 0.000,-0.500 C 0.000,-0.260 0.062,0.000 0.260,0.000 C 0.458,0.000 0.520,-0.260 0.520,-0.500 C 0.520,-0.740 0.458,-1.000 0.260,-1.000 Z"/></g>
<g transform="translate(578.22,584.46) skewX(-14.32) scale(12.120)" fill="none" stroke="#111" stroke-width="0.2021" stroke-linecap="round" stroke-linejoin="round"><path transform="translate(0.000,0)" d="M 0.499,-1.000 L 0.083,-1.000 L 0.042,-0.560 C 0.125,-0.620 0.208,-0.640 0.291,-0.640 C 0.437,-0.640 0.530,-0.520 0.530,-0.330 C 0.530,-0.120 0.416,0.000 0.250,0.000 C 0.125,0.000 0.042,-0.050 0.000,-0.140"/><path transform="translate(1.024,0)" d="M 0.062,-0.050 L 0.062,-0.010"/><path transform="translate(1.454,0)" d="M 0.021,-0.800 C 0.052,-0.940 0.146,-1.000 0.270,-1.000 C 0.416,-1.000 0.520,-0.900 0.520,-0.760 C 0.520,-0.640 0.468,-0.560 0.385,-0.470 L 0.000,0.000 L 0.541,0.000"/><path transform="translate(2.479,0)" d="M 0.000,-1.000 L 0.541,-1.000 C 0.364,-0.700 0.208,-0.350 0.125,0.000"/></g>
<g transform="translate(548.91,685.69) skewX(-14.32) scale(12.900)" fill="none" stroke="#111" stroke-width="0.1899" stroke-linecap="round" stroke-linejoin="round"><path transform="translate(0.000,0)" d="M 0.083,-0.720 L 0.416,-1.000 L 0.416,0.000"/><path transform="translate(0.847,0)" d="M 0.062,-0.050 L 0.062,-0.010"/><path transform="translate(1.203,0)" d="M 0.260,-0.550 C 0.104,-0.550 0.031,-0.650 0.031,-0.780 C 0.031,-0.920 0.135,-1.000 0.260,-1.000 C 0.385,-1.000 0.489,-0.920 0.489,-0.780 C 0.489,-0.650 0.416,-0.550 0.260,-0.550 C 0.104,-0.550 0.000,-0.440 0.000,-0.280 C 0.000,-0.100 0.114,0.000 0.260,0.000 C 0.406,0.000 0.520,-0.100 0.520,-0.280 C 0.520,-0.440 0.416,-0.550 0.260,-0.550 Z"/><path transform="translate(2.050,0)" d="M 0.499,-1.000 L 0.083,-1.000 L 0.042,-0.560 C 0.125,-0.620 0.208,-0.640 0.291,-0.640 C 0.437,-0.640 0.530,-0.520 0.530,-0.330 C 0.530,-0.120 0.416,0.000 0.250,0.000 C 0.125,0.000 0.042,-0.050 0.000,-0.140"/></g>
<g transform="translate(572.85,726.27) skewX(-14.32) scale(12.920)" fill="none" stroke="#111" stroke-width="0.2012" stroke-linecap="round" stroke-linejoin="round"><path transform="translate(0.000,0)" d="M 0.083,-0.720 L 0.416,-1.000 L 0.416,0.000"/><path transform="translate(0.816,0)" d="M 0.083,-0.720 L 0.416,-1.000 L 0.416,0.000"/><path transform="translate(1.632,0)" d="M 0.499,-1.000 L 0.083,-1.000 L 0.042,-0.560 C 0.125,-0.620 0.208,-0.640 0.291,-0.640 C 0.437,-0.640 0.530,-0.520 0.530,-0.330 C 0.530,-0.120 0.416,0.000 0.250,0.000 C 0.125,0.000 0.042,-0.050 0.000,-0.140"/><path transform="translate(2.448,0)" d="M 0.260,-1.000 C 0.062,-1.000 0.000,-0.740 0.000,-0.500 C 0.000,-0.260 0.062,0.000 0.260,0.000 C 0.458,0.000 0.520,-0.260 0.520,-0.500 C 0.520,-0.740 0.458,-1.000 0.260,-1.000 Z"/></g>
<g transform="translate(671.45,698.40) skewX(-14.32) scale(14.290)" fill="none" stroke="#111" stroke-width="0.1714" stroke-linecap="round" stroke-linejoin="round"><path transform="translate(0.000,0)" d="M 0.333,-1.000 L 0.000,-0.320 L 0.562,-0.320 M 0.416,-0.620 L 0.416,0.000"/><path transform="translate(0.911,0)" d="M 0.062,-0.050 L 0.062,-0.010"/><path transform="translate(1.294,0)" d="M 0.260,-1.000 C 0.062,-1.000 0.000,-0.740 0.000,-0.500 C 0.000,-0.260 0.062,0.000 0.260,0.000 C 0.458,0.000 0.520,-0.260 0.520,-0.500 C 0.520,-0.740 0.458,-1.000 0.260,-1.000 Z"/><path transform="translate(2.205,0)" d="M 0.031,0.000 C 0.312,-0.100 0.499,-0.350 0.510,-0.650 C 0.520,-0.880 0.416,-1.000 0.260,-1.000 C 0.104,-1.000 0.000,-0.880 0.000,-0.700 C 0.000,-0.520 0.104,-0.400 0.250,-0.400 C 0.374,-0.400 0.468,-0.480 0.499,-0.580"/></g>
<g transform="translate(681.34,724.80) skewX(-14.32) scale(13.980)" fill="none" stroke="#111" stroke-width="0.1860" stroke-linecap="round" stroke-linejoin="round"><path transform="translate(0.000,0)" d="M 0.021,-0.800 C 0.052,-0.940 0.146,-1.000 0.270,-1.000 C 0.416,-1.000 0.520,-0.900 0.520,-0.760 C 0.520,-0.640 0.468,-0.560 0.385,-0.470 L 0.000,0.000 L 0.541,0.000"/><path transform="translate(0.815,0)" d="M 0.021,-0.800 C 0.052,-0.940 0.146,-1.000 0.270,-1.000 C 0.416,-1.000 0.520,-0.900 0.520,-0.760 C 0.520,-0.640 0.468,-0.560 0.385,-0.470 L 0.000,0.000 L 0.541,0.000"/><path transform="translate(1.630,0)" d="M 0.260,-1.000 C 0.062,-1.000 0.000,-0.740 0.000,-0.500 C 0.000,-0.260 0.062,0.000 0.260,0.000 C 0.458,0.000 0.520,-0.260 0.520,-0.500 C 0.520,-0.740 0.458,-1.000 0.260,-1.000 Z"/><path transform="translate(2.445,0)" d="M 0.260,-1.000 C 0.062,-1.000 0.000,-0.740 0.000,-0.500 C 0.000,-0.260 0.062,0.000 0.260,0.000 C 0.458,0.000 0.520,-0.260 0.520,-0.500 C 0.520,-0.740 0.458,-1.000 0.260,-1.000 Z"/></g>
<g transform="translate(764.30,714.55) rotate(-90) skewX(-14.32) scale(15.200)" fill="none" stroke="#111" stroke-width="0.1711" stroke-linecap="round" stroke-linejoin="round"><path transform="translate(0.000,0)" d="M 0.083,-0.720 L 0.416,-1.000 L 0.416,0.000"/><path transform="translate(0.759,0)" d="M 0.260,-0.550 C 0.104,-0.550 0.031,-0.650 0.031,-0.780 C 0.031,-0.920 0.135,-1.000 0.260,-1.000 C 0.385,-1.000 0.489,-0.920 0.489,-0.780 C 0.489,-0.650 0.416,-0.550 0.260,-0.550 C 0.104,-0.550 0.000,-0.440 0.000,-0.280 C 0.000,-0.100 0.114,0.000 0.260,0.000 C 0.406,0.000 0.520,-0.100 0.520,-0.280 C 0.520,-0.440 0.416,-0.550 0.260,-0.550 Z"/><path transform="translate(1.519,0)" d="M 0.489,-1.000 C 0.208,-0.900 0.021,-0.650 0.010,-0.350 C 0.000,-0.120 0.104,0.000 0.260,0.000 C 0.416,0.000 0.520,-0.120 0.520,-0.300 C 0.520,-0.480 0.416,-0.600 0.270,-0.600 C 0.146,-0.600 0.052,-0.520 0.021,-0.420"/><path transform="translate(2.278,0)" d="M 0.260,-1.000 C 0.062,-1.000 0.000,-0.740 0.000,-0.500 C 0.000,-0.260 0.062,0.000 0.260,0.000 C 0.458,0.000 0.520,-0.260 0.520,-0.500 C 0.520,-0.740 0.458,-1.000 0.260,-1.000 Z"/></g>
<g transform="translate(943.84,541.32) skewX(-14.32) scale(13.570)" fill="none" stroke="#111" stroke-width="0.1916" stroke-linecap="round" stroke-linejoin="round"><path transform="translate(0.000,0)" d="M 0.499,-1.000 L 0.083,-1.000 L 0.042,-0.560 C 0.125,-0.620 0.208,-0.640 0.291,-0.640 C 0.437,-0.640 0.530,-0.520 0.530,-0.330 C 0.530,-0.120 0.416,0.000 0.250,0.000 C 0.125,0.000 0.042,-0.050 0.000,-0.140"/><path transform="translate(0.902,0)" d="M 0.021,-0.800 C 0.052,-0.940 0.146,-1.000 0.270,-1.000 C 0.416,-1.000 0.520,-0.900 0.520,-0.760 C 0.520,-0.640 0.468,-0.560 0.385,-0.470 L 0.000,0.000 L 0.541,0.000"/><path transform="translate(1.804,0)" d="M 0.021,-0.800 C 0.052,-0.940 0.146,-1.000 0.270,-1.000 C 0.416,-1.000 0.520,-0.900 0.520,-0.760 C 0.520,-0.640 0.468,-0.560 0.385,-0.470 L 0.000,0.000 L 0.541,0.000"/><path transform="translate(2.706,0)" d="M 0.260,-1.000 C 0.062,-1.000 0.000,-0.740 0.000,-0.500 C 0.000,-0.260 0.062,0.000 0.260,0.000 C 0.458,0.000 0.520,-0.260 0.520,-0.500 C 0.520,-0.740 0.458,-1.000 0.260,-1.000 Z"/></g>
<g transform="translate(828.77,663.77) rotate(-90) skewX(-14.32) scale(16.340)" fill="none" stroke="#111" stroke-width="0.1591" stroke-linecap="round" stroke-linejoin="round"><path transform="translate(0.000,0)" d="M 0.021,-0.860 C 0.073,-0.960 0.156,-1.000 0.270,-1.000 C 0.416,-1.000 0.510,-0.910 0.510,-0.780 C 0.510,-0.640 0.395,-0.560 0.208,-0.560 C 0.416,-0.560 0.530,-0.450 0.530,-0.280 C 0.530,-0.100 0.416,0.000 0.260,0.000 C 0.125,0.000 0.042,-0.050 0.000,-0.150"/><path transform="translate(0.839,0)" d="M 0.333,-1.000 L 0.000,-0.320 L 0.562,-0.320 M 0.416,-0.620 L 0.416,0.000"/><path transform="translate(1.678,0)" d="M 0.333,-1.000 L 0.000,-0.320 L 0.562,-0.320 M 0.416,-0.620 L 0.416,0.000"/><path transform="translate(2.517,0)" d="M 0.260,-1.000 C 0.062,-1.000 0.000,-0.740 0.000,-0.500 C 0.000,-0.260 0.062,0.000 0.260,0.000 C 0.458,0.000 0.520,-0.260 0.520,-0.500 C 0.520,-0.740 0.458,-1.000 0.260,-1.000 Z"/></g>
<g transform="translate(901.15,668.32) skewX(-14.32) scale(14.840)" fill="none" stroke="#111" stroke-width="0.1954" stroke-linecap="round" stroke-linejoin="round"><path transform="translate(0.000,0)" d="M 0.083,-0.720 L 0.416,-1.000 L 0.416,0.000"/><path transform="translate(0.771,0)" d="M 0.000,-1.000 L 0.541,-1.000 C 0.364,-0.700 0.208,-0.350 0.125,0.000"/><path transform="translate(1.542,0)" d="M 0.062,-0.050 L 0.062,-0.010"/><path transform="translate(1.866,0)" d="M 0.031,0.000 C 0.312,-0.100 0.499,-0.350 0.510,-0.650 C 0.520,-0.880 0.416,-1.000 0.260,-1.000 C 0.104,-1.000 0.000,-0.880 0.000,-0.700 C 0.000,-0.520 0.104,-0.400 0.250,-0.400 C 0.374,-0.400 0.468,-0.480 0.499,-0.580"/><path transform="translate(2.637,0)" d="M 0.489,-1.000 C 0.208,-0.900 0.021,-0.650 0.010,-0.350 C 0.000,-0.120 0.104,0.000 0.260,0.000 C 0.416,0.000 0.520,-0.120 0.520,-0.300 C 0.520,-0.480 0.416,-0.600 0.270,-0.600 C 0.146,-0.600 0.052,-0.520 0.021,-0.420"/></g>
<circle cx="21" cy="447" r="25" fill="#000"/>
<path d="M24.5,440 L17.5,447 L24.5,454" fill="none" stroke="#fff" stroke-width="2"/>
<circle cx="1168.3" cy="447" r="25.4" fill="#000"/>
<path d="M1165,440 L1172,447 L1165,454" fill="none" stroke="#fff" stroke-width="2"/>
</svg></body></html>
